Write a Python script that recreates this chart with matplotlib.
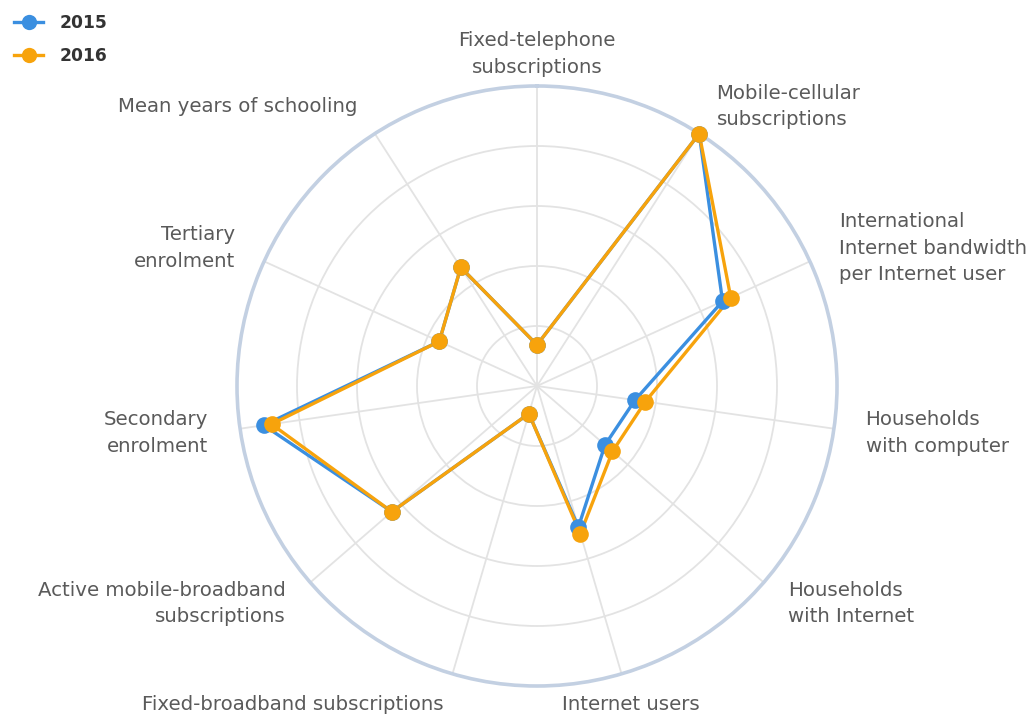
import numpy as np
import matplotlib
matplotlib.use("Agg")
import matplotlib.pyplot as plt
from matplotlib.lines import Line2D

categories = [
    "Fixed-telephone\nsubscriptions",
    "Mobile-cellular\nsubscriptions",
    "International\nInternet bandwidth\nper Internet user",
    "Households\nwith computer",
    "Households\nwith Internet",
    "Internet users",
    "Fixed-broadband subscriptions",
    "Active mobile-broadband\nsubscriptions",
    "Secondary\nenrolment",
    "Tertiary\nenrolment",
    "Mean years of schooling",
]
values_2015 = [13.7, 100, 68, 33, 30, 49, 9.6, 64, 92, 35.8, 47]
values_2016 = [13.7, 100, 71, 36.5, 33.3, 51.3, 9.6, 64, 89.4, 35.8, 47]
series_names = ["2015", "2016"]
series_colors = ["#3b8fe0", "#f7a30c"]
label_align = ["center", "left", "left", "left", "left", "center",
               "right", "right", "right", "right", "right"]

W, H = 1032, 714
fig = plt.figure(figsize=(W / 100, H / 100), dpi=100)
cx, cy, R = 537, 386, 300
ax = fig.add_axes([(cx - R) / W, (H - cy - R) / H, 2 * R / W, 2 * R / H],
                  projection="polar")
ax.set_theta_zero_location("N")
ax.set_theta_direction(-1)
ax.set_ylim(0, 100)

n = len(categories)
angles = np.arange(n) * 2 * np.pi / n

ax.set_xticks(angles)
ax.set_xticklabels([])
ax.set_yticks([20, 40, 60, 80])
ax.set_yticklabels([])
ax.grid(True, color="#e3e3e3", linewidth=1.3)
ax.spines["polar"].set_color("#c3d0e2")
ax.spines["polar"].set_linewidth(2.6)
ax.tick_params(length=0)

for vals, col, name in zip([values_2015, values_2016], series_colors, series_names):
    a = np.append(angles, angles[0])
    v = np.append(vals, vals[0])
    ax.plot(a, v, color=col, linewidth=2.4, zorder=3)
    ax.plot(angles, vals, "o", color=col, markersize=12, markeredgewidth=0,
            zorder=4, clip_on=False)

# category labels at R + 32 px
r_lab = 100 * (R + 32) / R
for ang, lab, al in zip(angles, categories, label_align):
    ax.text(ang, r_lab, lab, ha=al, va="center", multialignment=al,
            fontsize=14.2, color="#5a5a5a", linespacing=1.5,
            family="DejaVu Sans", clip_on=False)

handles = [Line2D([0], [0], color=c, linewidth=2.4, marker="o", markersize=11,
                  markeredgewidth=0) for c in series_colors]
leg = fig.legend(handles, series_names, loc="upper left",
                 bbox_to_anchor=(0.0, 1.0), frameon=False,
                 prop={"weight": "bold", "size": 12.3}, handlelength=1.7,
                 labelspacing=0.85, handletextpad=0.95, borderaxespad=0.42)
for t in leg.get_texts():
    t.set_color("#333333")

fig.savefig("out.png", dpi=100)
